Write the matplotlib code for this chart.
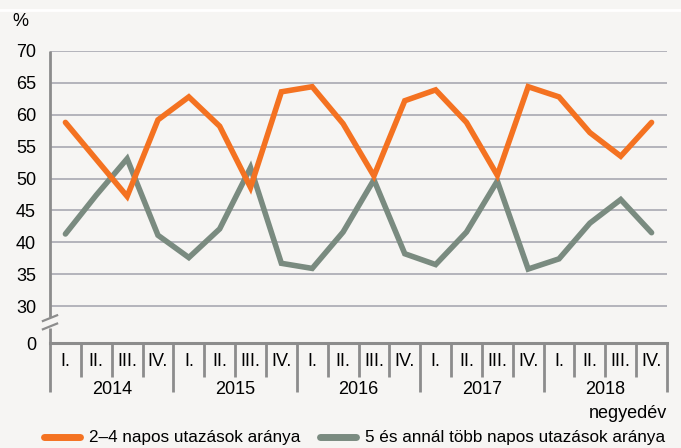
import matplotlib as mpl
import matplotlib.pyplot as plt
from matplotlib.lines import Line2D
import matplotlib.transforms as mtransforms

mpl.rcParams["font.family"] = ["Liberation Sans", "DejaVu Sans"]
mpl.rcParams["font.size"] = 13

# -----------------------------
# data
# -----------------------------
years = ["2014", "2015", "2016", "2017", "2018"]
quarters = ["I.", "II.", "III.", "IV."]

short_trips = [58.8, 53.0, 47.2, 59.2,
               62.8, 58.2, 48.6, 63.6,
               64.4, 58.6, 50.4, 62.2,
               63.9, 58.8, 50.5, 64.4,
               62.8, 57.2, 53.5, 58.8]

long_trips = [41.3, 47.4, 53.1, 41.1,
              37.6, 42.1, 51.7, 36.7,
              35.9, 41.6, 49.8, 38.2,
              36.5, 41.6, 49.6, 35.8,
              37.4, 43.0, 46.7, 41.5]

labels = ["2–4 napos utazások aránya",
          "5 és annál több napos utazások aránya"]

yticks = [30, 35, 40, 45, 50, 55, 60, 65, 70]

BG = "#f6f5f3"
ORANGE = "#f47221"
GREEN = "#7a8b80"
AXIS = "#8c8c8c"
GRID = "#a9a9b1"

y_zero = 24.2  # where "0" sits on the broken axis

# -----------------------------
# figure
# -----------------------------
fig = plt.figure(figsize=(6.81, 4.48), dpi=100, facecolor=BG)
ax = fig.add_axes([50 / 681, 105 / 448, 617 / 681, 292 / 448], facecolor=BG)

x = list(range(len(short_trips)))
ax.plot(x, short_trips, color=ORANGE, linewidth=4, solid_capstyle="round",
        solid_joinstyle="miter", zorder=5)
ax.plot(x, long_trips, color=GREEN, linewidth=4, solid_capstyle="round",
        solid_joinstyle="miter", zorder=4)

ax.set_xlim(-0.5, len(x) - 0.5)
ax.set_ylim(y_zero, 70)

# grid
for v in yticks:
    ax.axhline(v, color=GRID, linewidth=1.2, zorder=1)

# y ticks
ax.set_yticks([y_zero] + yticks)
ax.set_yticklabels(["0"] + [str(v) for v in yticks])
ax.tick_params(axis="y", length=0, pad=10)

# spines
for s in ["top", "right", "bottom", "left"]:
    ax.spines[s].set_visible(False)

ax.plot([-0.5, -0.5], [28.3, 70], color=AXIS, linewidth=2, clip_on=False,
        solid_capstyle="butt", zorder=3)
ax.plot([-0.5, -0.5], [y_zero, 26.5], color=AXIS, linewidth=2, clip_on=False,
        solid_capstyle="butt", zorder=3)
ax.axhline(y_zero, color=AXIS, linewidth=2.2, clip_on=False, zorder=3)

# axis break marks
for yb in [28.1, 26.8]:
    ax.plot([-0.5 - 0.23, -0.5 + 0.23], [yb - 0.45, yb + 0.45], color=AXIS,
            linewidth=1.6, clip_on=False, zorder=3)

# x axis: quarters and years
ax.set_xticks(x)
ax.set_xticklabels(quarters * len(years))
ax.tick_params(axis="x", length=0, pad=7)

sep_tr = mtransforms.blended_transform_factory(ax.transData, ax.transAxes)
h = 292
for i in range(len(x) + 1):
    bottom = -49 / h if i % 4 == 0 else -34 / h
    ax.plot([i - 0.5, i - 0.5], [0, bottom], color=AXIS, linewidth=2,
            transform=sep_tr, clip_on=False, solid_capstyle="butt")

for k, yr in enumerate(years):
    ax.text(k * 4 + 1.5, -46 / h, yr, transform=sep_tr, ha="center", va="center")

ax.text(1.0, -70 / h, "negyedév", transform=ax.transAxes, ha="right", va="center")
fig.text(20 / 681, 1 - 22 / 448, "%", ha="center", va="center")

# thin white line at the top
fig.add_artist(Line2D([0, 1], [1 - 10 / 448, 1 - 10 / 448], color="white",
                      linewidth=2, transform=fig.transFigure))

# legend (placed by hand)
ly = 1 - 437 / 448
for (x0, x1, xt), col, lab in zip([(44, 80, 89), (320, 356, 365)],
                                  [ORANGE, GREEN], labels):
    fig.add_artist(Line2D([x0 / 681, x1 / 681], [ly, ly], color=col,
                          linewidth=5, solid_capstyle="round",
                          transform=fig.transFigure))
    fig.text(xt / 681, ly, lab, ha="left", va="center", fontsize=12.3)

plt.savefig("out.png", dpi=100, facecolor=BG)
